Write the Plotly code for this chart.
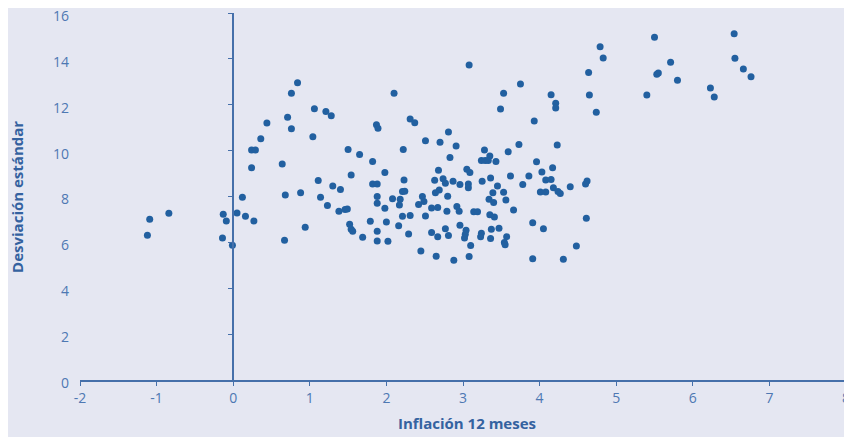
import plotly.graph_objects as go

# Inflación 12 meses (eje x) y desviación estándar (eje y), un punto por observación
inflacion = [
    -1.09, -1.12, -0.84, -0.13, -0.09, -0.14, -0.01, 0.05, 0.12, 0.16, 0.27,
    0.84, 0.76, 1.06, 1.21, 1.28, 0.44, 0.71, 0.76, 0.36, 1.04, 1.87, 1.89, 0.24, 0.29,
    1.50, 1.65, 1.82, 0.24, 0.64, 1.54,
    1.11, 1.30, 1.40, 1.82, 1.88, 0.68, 0.88, 1.14, 1.88, 1.88, 1.23, 1.38, 1.46, 1.49,
    1.79, 0.94, 1.52, 1.54, 1.56, 1.69, 1.88, 1.88, 0.67,
    3.08, 2.10, 2.31, 2.37, 2.81, 2.51, 2.70, 2.91, 2.22, 2.83, 3.28, 3.35, 3.24, 3.29,
    3.33, 3.43,
    1.98, 2.68, 3.05, 3.09, 2.23, 2.63, 2.74, 2.77, 2.87, 2.96, 3.07, 3.07, 3.25, 3.36,
    3.45, 2.21, 2.24, 2.69, 2.64, 2.08, 2.18, 2.17, 2.47, 2.49, 2.42, 2.80, 3.34, 3.39,
    3.40, 1.98, 2.59, 2.67, 2.79, 2.92, 2.95, 3.14, 3.19, 3.35, 3.41, 2.00, 2.21, 2.31,
    2.51, 2.16, 2.96, 2.59, 2.67, 2.77, 2.81, 3.04, 3.03, 3.02, 3.24, 3.23, 3.37, 3.36,
    3.47, 2.02, 2.29, 3.10, 2.45, 2.65, 2.88, 3.08,
    4.79, 4.83, 4.64, 3.75, 3.53, 4.15, 4.65, 4.21, 4.21, 3.49, 4.74, 3.93, 3.73, 4.23,
    3.59, 3.96,
    4.17, 4.03, 3.62, 3.86, 4.08, 4.15, 4.62, 4.60, 3.78, 3.53, 4.01, 4.08, 4.18, 4.24,
    4.27, 4.40, 3.56, 3.66, 3.91, 4.05, 4.61, 3.57, 3.54, 3.55, 4.48, 3.91, 4.31,
    5.50, 5.71, 5.53, 5.55, 5.80, 5.40, 6.54, 6.55, 6.66, 6.76, 6.23, 6.28,
]
desviacion = [
    7.01, 6.31, 7.27, 7.23, 6.93, 6.19, 5.87, 7.28, 7.97, 7.14, 6.93,
    12.96, 12.50, 11.83, 11.71, 11.52, 11.20, 11.45, 10.95, 10.52, 10.60, 11.13, 10.98,
    10.03, 10.03, 10.05, 9.83, 9.53, 9.25, 9.42, 8.94,
    8.70, 8.46, 8.31, 8.55, 8.55, 8.07, 8.16, 7.97, 8.00, 7.71, 7.61, 7.36, 7.43, 7.45,
    6.92, 6.66, 6.79, 6.57, 6.48, 6.22, 6.48, 6.06, 6.09,
    13.73, 12.50, 11.38, 11.21, 10.81, 10.43, 10.36, 10.20, 10.05, 9.70, 10.03, 9.77,
    9.57, 9.57, 9.57, 9.53,
    9.05, 9.14, 9.19, 9.05, 8.72, 8.71, 8.77, 8.58, 8.67, 8.52, 8.54, 8.38, 8.67, 8.81,
    8.46, 8.22, 8.23, 8.28, 8.16, 7.90, 7.88, 7.63, 8.00, 7.78, 7.65, 8.01, 7.88, 8.16,
    7.74, 7.49, 7.50, 7.52, 7.36, 7.56, 7.36, 7.34, 7.34, 7.20, 7.11, 6.89, 7.14, 7.17,
    7.15, 6.73, 6.75, 6.43, 6.24, 6.59, 6.30, 6.53, 6.35, 6.19, 6.40, 6.25, 6.57, 6.17,
    6.62, 6.05, 6.37, 5.86, 5.62, 5.39, 5.22, 5.38,
    14.53, 14.04, 13.41, 12.90, 12.50, 12.44, 12.42, 12.06, 11.86, 11.81, 11.67, 11.29,
    10.27, 10.24, 9.95, 9.51,
    9.25, 9.07, 8.89, 8.89, 8.72, 8.74, 8.68, 8.55, 8.52, 8.19, 8.20, 8.20, 8.38, 8.22,
    8.13, 8.42, 7.85, 7.41, 6.86, 6.59, 7.05, 6.25, 5.99, 5.90, 5.84, 5.29, 5.26,
    14.94, 13.85, 13.33, 13.38, 13.07, 12.42, 15.09, 14.03, 13.56, 13.22, 12.73, 12.34,
]

# marcas del eje x, con guion normal como en el original
x_ticks = [-2, -1, 0, 1, 2, 3, 4, 5, 6, 7, 8]
x_labels = ['-2', '-1', '0', '1', '2', '3', '4', '5', '6', '7', '8']

fondo = 'rgb(229,231,242)'
azul_punto = 'rgb(34,96,160)'
azul_eje = 'rgb(70,112,170)'
azul_texto = 'rgb(78,120,178)'
azul_titulo = 'rgb(52,98,160)'

fig = go.Figure()
fig.add_trace(go.Scatter(
    x=inflacion, y=desviacion, mode='markers',
    marker=dict(size=7, color=azul_punto),
    showlegend=False, cliponaxis=False,
))
# eje auxiliar para dibujar la línea vertical con marcas en x = 0
fig.add_trace(go.Scatter(x=[None], y=[None], yaxis='y2', showlegend=False))

# la página deja 8 px de margen alrededor de la figura
fig.update_layout(
    width=844, height=429,
    paper_bgcolor=fondo, plot_bgcolor=fondo,
    margin=dict(l=72, r=6, t=5, b=57, autoexpand=False),
    font=dict(family='Open Sans', size=14, color=azul_texto),
    xaxis=dict(
        range=[-2, 8], tickvals=x_ticks, ticktext=x_labels,
        showgrid=False, zeroline=False, automargin=False, ticklabeloverflow='allow',
        showline=True, linecolor=azul_eje, linewidth=1.5,
        ticks='outside', ticklen=4, tickcolor=azul_eje,
    ),
    yaxis=dict(
        range=[0, 16], dtick=2, showgrid=False, zeroline=False, automargin=False,
        ticklabeloverflow='allow', showline=False, ticks='', ticklabelstandoff=10,
        ticklabelshift=3,
    ),
    yaxis2=dict(
        range=[0, 16], dtick=2, overlaying='y', anchor='free', position=0.2,
        showgrid=False, zeroline=False, showline=True, linecolor=azul_eje,
        linewidth=1.5, ticks='outside', ticklen=4, tickcolor=azul_eje,
        showticklabels=False, automargin=False,
    ),
    annotations=[
        dict(text='<b>Inflación 12 meses</b>', xref='paper', yref='paper',
             x=0.505, y=-0.117, xanchor='center', yanchor='middle', showarrow=False,
             font=dict(size=15, color=azul_titulo)),
        dict(text='<b>Desviación estándar</b>', xref='paper', yref='paper',
             x=-0.083, y=0.5, xanchor='center', yanchor='middle', showarrow=False,
             textangle=-90, font=dict(size=15, color=azul_titulo)),
    ],
)

fig.write_html("out.html")
